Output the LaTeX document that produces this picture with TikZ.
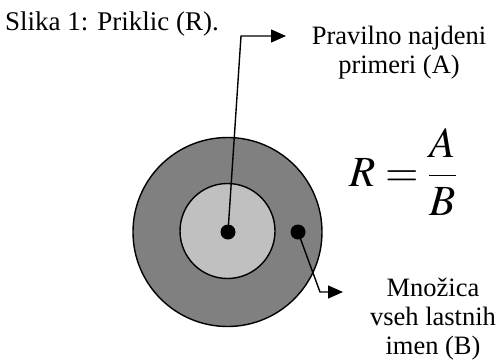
\documentclass[tikz,border=0pt]{standalone}
\usepackage{mathptmx}
\usepackage{fontspec}
\setmainfont{Liberation Serif}
\usetikzlibrary{arrows.meta}
\definecolor{ringgray}{HTML}{808080}
\definecolor{coregray}{HTML}{C0C0C0}

\begin{document}
\begin{tikzpicture}[x=1pt,y=-1pt,>={Triangle[length=15pt,width=13pt]},
 lbl/.style={align=center,inner sep=0pt,font=\fontsize{26.5}{29}\selectfont},
 dotn/.style={circle,fill=black,minimum size=15pt,inner sep=0pt},
 a/.style={->,line width=1.4pt}]
\useasboundingbox (0,0) rectangle (498,362);
% circles
\draw[line width=1.4pt,fill=ringgray] (227.5,232) circle (94.5);
\draw[line width=1.4pt,fill=coregray] (227.5,231) circle (47.5);
\node[dotn] (cdot) at (228,232) {};
\node[dotn] (rdot) at (298,232) {};
% texts
\node[anchor=base west,inner sep=0pt,font=\fontsize{27}{29}\selectfont] (title) at (5,30) {Slika 1: Priklic (R).};
\node[lbl,anchor=north] (found) at (399,25.5) {Pravilno najdeni\\primeri (A)};
\node[lbl,anchor=north] (allset) at (433,277.5) {Množica\\vseh lastnih\\imen (B)};
\node[inner sep=0pt,font=\fontsize{43}{48}\selectfont] (frm) at (403,172) {$\displaystyle R=\frac{A}{B}$};
% connectors
\coordinate (bendA) at (241,36);
\coordinate (tipA) at (286,36);
\coordinate (bendB) at (320,292);
\coordinate (tipB) at (343,292);
\draw[a] (cdot.center) -- (bendA) -- (tipA);
\draw[a] (rdot.center) -- (bendB) -- (tipB);
\end{tikzpicture}
\end{document}
